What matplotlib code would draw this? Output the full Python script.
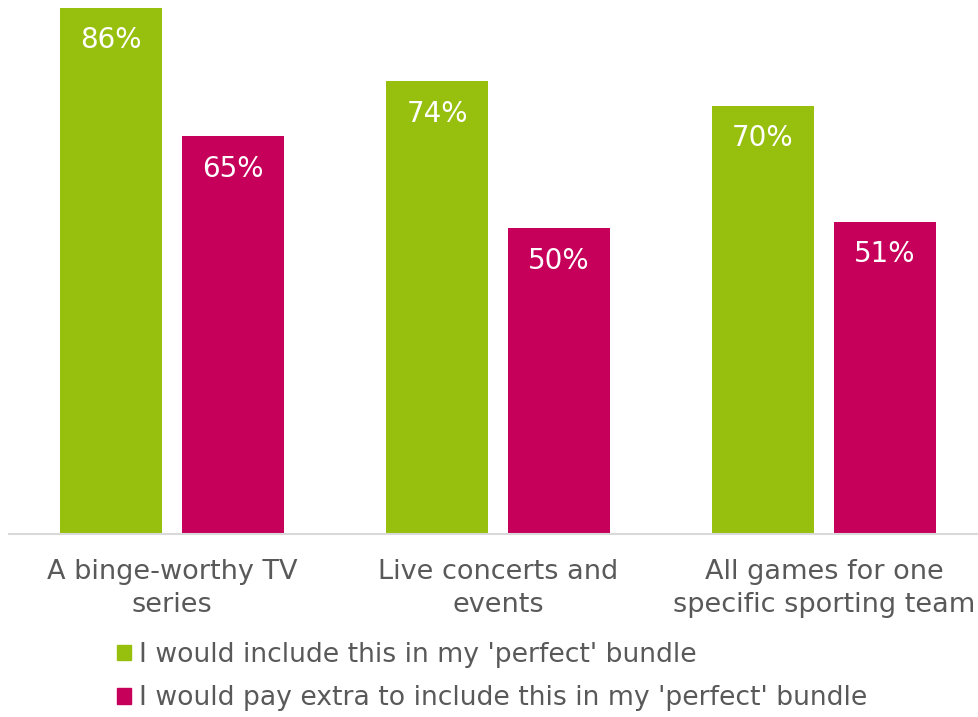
import matplotlib.pyplot as plt
import numpy as np
from matplotlib.patches import Patch

categories = ['A binge-worthy TV\nseries', 'Live concerts and\nevents',
              'All games for one\nspecific sporting team']
include = [86, 74, 70]
pay_extra = [65, 50, 51]
series_names = ["I would include this in my 'perfect' bundle",
                 "I would pay extra to include this in my 'perfect' bundle"]

GREEN = '#97BF0D'
MAGENTA = '#C6005A'
GREY_TEXT = '#595959'


def main():
    W, H = 979, 717
    fig = plt.figure(figsize=(W / 100, H / 100), dpi=100)
    # axes placed in pixel terms: left 9, right 979, baseline 534, top 8
    ax = fig.add_axes([9 / W, (H - 534) / H, 970 / W, 526 / H])

    x = np.arange(len(categories))
    width = 0.313
    off = 0.187
    b1 = ax.bar(x - off, include, width, color=GREEN)
    b2 = ax.bar(x + off, pay_extra, width, color=MAGENTA)

    for bars, vals in ((b1, include), (b2, pay_extra)):
        for rect, v in zip(bars, vals):
            ax.text(rect.get_x() + rect.get_width() / 2, v - 5.3, f'{v}%',
                    ha='center', va='center', color='white', fontsize=20)

    ax.set_xlim(-0.5, -0.5 + 970 / 326)
    ax.set_ylim(0, 86)
    ax.set_yticks([])
    ax.set_xticks(x)
    ax.set_xticklabels(categories, fontsize=19.5, color=GREY_TEXT,
                       linespacing=1.33)
    ax.tick_params(axis='x', length=0, pad=18)
    for side in ('top', 'right', 'left'):
        ax.spines[side].set_visible(False)
    ax.spines['bottom'].set_color('#D9D9D9')
    ax.spines['bottom'].set_linewidth(1.5)

    handles = [Patch(color=GREEN), Patch(color=MAGENTA)]
    leg = fig.legend(handles, series_names, loc='upper left',
                     bbox_to_anchor=(117 / W, 1 - 642 / H), frameon=False,
                     fontsize=19.2, handlelength=0.53, handleheight=0.53,
                     handletextpad=0.3, labelspacing=0.65, borderpad=0,
                     borderaxespad=0)
    for t in leg.get_texts():
        t.set_color(GREY_TEXT)

    fig.savefig('out.png', dpi=100)


if __name__ == '__main__':
    main()
